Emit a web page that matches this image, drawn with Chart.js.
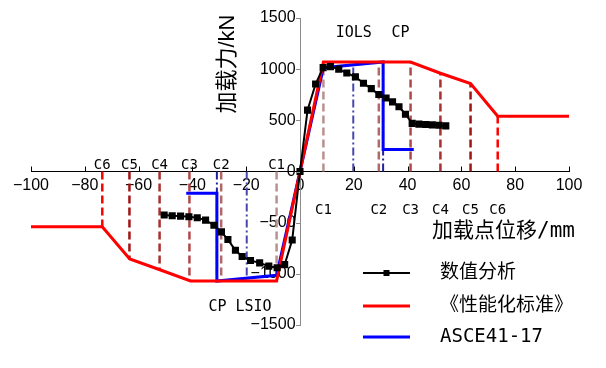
<!DOCTYPE html>
<html><head><meta charset="utf-8">
<script src="https://cdn.jsdelivr.net/npm/chart.js@4"></script>
<style>html,body{margin:0;padding:0;background:#fff}#w{width:606px;height:368px}</style>
</head><body>
<div id="w"><canvas id="c" width="606" height="368"></canvas></div>
<script>
// ---- data ----
const numDisp  = [-50.5,-47.5,-44.4,-41.3,-38.2,-35.1,-32.0,-29.2,-26.8,-24.0,-21.5,-18.4,-15.0,-11.6,-8.5,-5.7,-2.9,0,2.8,5.8,8.6,11.3,14.4,17.4,20.6,23.6,26.5,29.3,32.0,34.4,36.8,39.2,41.7,44.2,46.7,49.2,51.7,54.2];
const numForce = [-425,-432,-436,-442,-452,-475,-525,-590,-665,-770,-830,-870,-893,-925,-940,-910,-670,0,600,855,1015,1025,1000,962,925,862,810,752,718,680,632,560,470,463,460,456,452,446];
const stdDisp  = [-100,-73.5,-63.3,-52.1,-40.7,-8.7,8.7,41.1,52.2,63.4,73.5,100];
const stdForce = [-540,-540,-855,-960,-1070,-1070,1070,1070,960,860,540,540];
const asceDisp  = [-42.3,-30.9,-30.9,-8.7,8.7,30.9,30.9,42.3];
const asceForce = [-213,-213,-1070,-1015,1015,1070,215,215];
const cNames  = ['C1','C2','C3','C4','C5','C6'];
const cDisp   = [8.7,29.3,41.1,52.2,63.4,73.5];
const cForce  = [1070,1070,1070,960,860,540];
const cColors = ['#b89090','#b06868','#b04848','#a83030','#a01414','#ff0000'];
const perfNames = ['IO','CP'];
const perfDisp  = [19.8,30.9];
const perfForce = [1043,1070];
const perfColors = ['#4848b0','#2020a0'];
const seriesNames = ['数值分析','《性能化标准》','ASCE41-17'];
const xTicks = [-100,-80,-60,-40,-20,0,20,40,60,80,100];
const yTicks = [-1500,-1000,-500,0,500,1000,1500];

const pts = (xs, ys) => xs.map((x, i) => ({x, y: ys[i]}));

const datasets = [
  {label: seriesNames[0], data: pts(numDisp, numForce), borderColor:'#000', backgroundColor:'#000', borderWidth:2, pointStyle:'rect', pointRadius:3.6, showLine:true},
  {label: seriesNames[1], data: pts(stdDisp, stdForce), borderColor:'#ff0000', borderWidth:3, pointRadius:0, showLine:true},
  {label: seriesNames[2], data: pts(asceDisp, asceForce), borderColor:'#0000ff', borderWidth:3, pointRadius:0, showLine:true}
];
perfDisp.forEach((d, i) => {
  [1,-1].forEach(s => datasets.push({label:'', data: pts([s*d, s*d],[0, s*perfForce[i]]), borderColor: perfColors[i], borderWidth:2, borderDash:[8,3,2,3], pointRadius:0, showLine:true}));
});
cDisp.forEach((d, i) => {
  [1,-1].forEach(s => datasets.push({label:'', data: pts([s*d, s*d],[0, s*cForce[i]]), borderColor: cColors[i], borderWidth:2.5, borderDash:[8,4], pointRadius:0, showLine:true}));
});

const minus = v => String(v).replace('-', '\u2212');
const mono = '"DejaVu Sans Mono", "Noto Sans CJK SC", monospace';

const deco = {
  id: 'deco',
  beforeDraw(chart) {
    const ctx = chart.ctx;
    ctx.save(); ctx.fillStyle = '#fff'; ctx.fillRect(0, 0, chart.width, chart.height); ctx.restore();
  },
  afterDraw(chart) {
    const ctx = chart.ctx, xs = chart.scales.x, ys = chart.scales.y;
    const x0 = xs.getPixelForValue(0), y0 = ys.getPixelForValue(0);
    ctx.save();
    // x ticks (upward)
    ctx.strokeStyle = '#000'; ctx.lineWidth = 1;
    ctx.beginPath();
    xTicks.forEach(v => { const p = Math.round(xs.getPixelForValue(v)) + 0.5; ctx.moveTo(p, y0); ctx.lineTo(p, y0 - 5); });
    ctx.stroke();
    // y ticks (left)
    ctx.strokeStyle = '#8c8c8c';
    ctx.beginPath();
    yTicks.forEach(v => { const p = Math.round(ys.getPixelForValue(v)) + 0.5; ctx.moveTo(x0, p); ctx.lineTo(x0 - 4, p); });
    ctx.stroke();
    // C labels
    ctx.fillStyle = '#000'; ctx.font = '14px ' + mono; ctx.textAlign = 'center'; ctx.textBaseline = 'middle';
    cDisp.forEach((d, i) => {
      ctx.fillText(cNames[i], xs.getPixelForValue(d), y0 + 39);
      ctx.fillText(cNames[i], xs.getPixelForValue(-d), y0 - 6);
    });
    ctx.font = '15px ' + mono;
    ctx.fillText('IOLS', xs.getPixelForValue(20), ys.getPixelForValue(1350));
    ctx.fillText('CP', xs.getPixelForValue(37.4), ys.getPixelForValue(1350));
    ctx.fillText('CP LSIO', xs.getPixelForValue(-22.3), ys.getPixelForValue(-1330));
    // axis titles
    ctx.font = '21px ' + mono;
    ctx.textAlign = 'left';
    ctx.fillText('加载点位移/mm', 432, 232);
    ctx.save();
    ctx.translate(228, 64); ctx.rotate(-Math.PI / 2);
    ctx.font = '22px "Liberation Sans", "Noto Sans CJK SC", sans-serif';
    ctx.textAlign = 'center';
    ctx.fillText('加载力/kN', 0, 0);
    ctx.restore();
    // legend
    const ly = [273, 306, 337];
    for (let i = 0; i < 3; i++) {
      const ds = chart.data.datasets[i];
      ctx.strokeStyle = ds.borderColor; ctx.lineWidth = ds.borderWidth;
      ctx.beginPath(); ctx.moveTo(363, ly[i]); ctx.lineTo(410, ly[i]); ctx.stroke();
      if (ds.pointRadius > 0) { ctx.fillStyle = ds.borderColor; ctx.fillRect(383.5, ly[i] - 3, 6, 6); }
      ctx.fillStyle = '#000'; ctx.font = '19px ' + mono; ctx.textAlign = 'left'; ctx.textBaseline = 'middle';
      ctx.fillText(ds.label, 440, ly[i]);
    }
    ctx.restore();
  }
};

new Chart(document.getElementById('c'), {
  type: 'scatter',
  data: {datasets},
  options: {
    responsive: false, animation: false, devicePixelRatio: 1,
    layout: {padding: {left: 31, right: 37, top: 18, bottom: 43}},
    plugins: {legend: {display: false}, tooltip: {enabled: false}},
    scales: {
      x: {type: 'linear', position: {y: 0}, min: -100, max: 100,
          grid: {display: false, drawTicks: false},
          border: {display: true, color: '#000', width: 1},
          ticks: {stepSize: 20, padding: 4, color: '#000', font: {family: '"Liberation Sans", Arial, sans-serif', size: 16}, callback: minus, maxRotation: 0, autoSkip: false}},
      y: {type: 'linear', position: {x: 0}, min: -1500, max: 1500,
          grid: {display: false, drawTicks: false},
          border: {display: true, color: '#8c8c8c', width: 1},
          ticks: {stepSize: 500, padding: 7, color: '#000', font: {family: '"Liberation Sans", Arial, sans-serif', size: 16}, callback: v => minus(v) + ' ', autoSkip: false}}
    }
  },
  plugins: [deco]
});
</script>
</body></html>
